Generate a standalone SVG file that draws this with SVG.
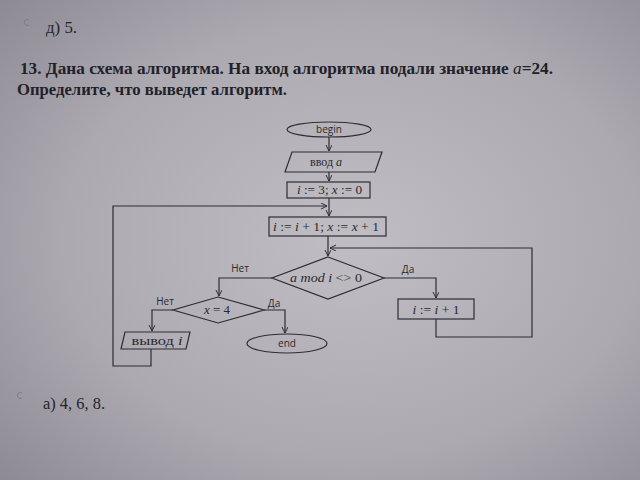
<svg xmlns="http://www.w3.org/2000/svg" width="640" height="480" viewBox="0 0 640 480">
<defs>
<radialGradient id="paper" cx="0.55" cy="0.5" r="0.75">
<stop offset="0" stop-color="#c0bdc3"/>
<stop offset="0.6" stop-color="#aca9b1"/>
<stop offset="1" stop-color="#8c8993"/>
</radialGradient>
<marker id="arr" markerWidth="8" markerHeight="8" refX="6" refY="3" orient="auto" markerUnits="userSpaceOnUse">
<path d="M0,0 L6,3 L0,6" fill="none" stroke="#2e2d35" stroke-width="1"/>
</marker>
<style>
.ln{fill:none;stroke:#2e2d35;stroke-width:1.2}
.sh{fill:none;stroke:#2e2d35;stroke-width:1.2}
.ttl{font-family:"Liberation Serif",serif;font-weight:bold;font-size:16px;fill:#222128}
.ser{font-family:"Liberation Serif",serif;font-size:16px;fill:#25242b}
.sans{font-family:"Open Sans","DejaVu Sans",sans-serif;font-size:10px;fill:#2a2930}
.m{font-family:"Liberation Serif",serif;font-size:12px;fill:#2a2930}
.i{font-style:italic}
.mark{fill:none;stroke:#7d7b84;stroke-width:1}
</style>
</defs>
<rect width="640" height="480" fill="url(#paper)"/>
<path class="mark" d="M29,20 A3,3 0 1 0 29,25"/>
<path class="mark" d="M22,393 A3,3 0 1 0 22,398"/>
<text class="ser" x="46" y="33" textLength="31" lengthAdjust="spacingAndGlyphs">д) 5.</text>
<text class="ttl" x="20" y="74" textLength="533" lengthAdjust="spacingAndGlyphs">13. Дана схема алгоритма. На вход алгоритма подали значение <tspan font-style="italic" font-weight="normal">a</tspan>=24.</text>
<text class="ttl" x="17" y="95" textLength="270" lengthAdjust="spacingAndGlyphs">Определите, что выведет алгоритм.</text>
<text class="ser" x="43" y="409" textLength="62" lengthAdjust="spacingAndGlyphs">a) 4, 6, 8.</text>

<g id="connectors">
<path class="ln" d="M329,137 V151" marker-end="url(#arr)"/>
<path class="ln" d="M329,172 V181" marker-end="url(#arr)"/>
<path class="ln" d="M329,198 V216" marker-end="url(#arr)"/>
<path class="ln" d="M151,349 V366 H113 V206 H327" marker-end="url(#arr)"/>
<path class="ln" d="M328,236 V256" marker-end="url(#arr)"/>
<path class="ln" d="M436,319 V337 H532 V248 H330" marker-end="url(#arr)"/>
<path class="ln" d="M272,278 H219 V296" marker-end="url(#arr)"/>
<path class="ln" d="M384,278 H436 V298" marker-end="url(#arr)"/>
<path class="ln" d="M173,310 H152 V331" marker-end="url(#arr)"/>
<path class="ln" d="M264,310 H285 V333" marker-end="url(#arr)"/>
<text class="sans" x="240" y="272" text-anchor="middle">Нет</text>
<text class="sans" x="408" y="273" text-anchor="middle">Да</text>
<text class="sans" x="165" y="305" text-anchor="middle">Нет</text>
<text class="sans" x="274" y="307" text-anchor="middle">Да</text>
</g>

<g id="begin">
<ellipse class="sh" cx="329" cy="129.5" rx="42" ry="7.5"/>
<text class="sans" x="329" y="133" text-anchor="middle">begin</text>
</g>
<g id="input">
<polygon class="sh" points="292,152 382,152 375,172 285,172"/>
<text class="m" x="326" y="166" text-anchor="middle" textLength="32" lengthAdjust="spacingAndGlyphs">ввод <tspan class="i">a</tspan></text>
</g>
<g id="init">
<rect class="sh" x="287" y="182" width="83" height="16"/>
<text class="m" x="329.5" y="194" text-anchor="middle" textLength="65" lengthAdjust="spacingAndGlyphs"><tspan class="i">i</tspan> := 3; <tspan class="i">x</tspan> := 0</text>
</g>
<g id="step">
<rect class="sh" x="269" y="217" width="117" height="19"/>
<text class="m" x="326" y="230.5" text-anchor="middle" textLength="106" lengthAdjust="spacingAndGlyphs"><tspan class="i">i</tspan> := <tspan class="i">i</tspan> + 1; <tspan class="i">x</tspan> := <tspan class="i">x</tspan> + 1</text>
</g>
<g id="cond1">
<polygon class="sh" points="328,257 384,278 328,299 272,278"/>
<text class="m" x="326" y="282" text-anchor="middle" textLength="72" lengthAdjust="spacingAndGlyphs"><tspan class="i">a mod i</tspan> &lt;&gt; 0</text>
</g>
<g id="cond2">
<polygon class="sh" points="218,297 264,310 218,323 173,310"/>
<text class="m" x="217" y="314" text-anchor="middle" textLength="26" lengthAdjust="spacingAndGlyphs"><tspan class="i">x</tspan> = 4</text>
</g>
<g id="inc">
<rect class="sh" x="398" y="299" width="76" height="20"/>
<text class="m" x="436" y="313.5" text-anchor="middle" textLength="47" lengthAdjust="spacingAndGlyphs"><tspan class="i">i</tspan> := <tspan class="i">i</tspan> + 1</text>
</g>
<g id="output">
<polygon class="sh" points="125,332 190,332 186,349 121,349"/>
<text class="m" x="157" y="344.5" text-anchor="middle" textLength="51" lengthAdjust="spacingAndGlyphs">вывод <tspan class="i">i</tspan></text>
</g>
<g id="end">
<ellipse class="sh" cx="287" cy="343.5" rx="40" ry="9.5"/>
<text class="sans" x="287" y="347" text-anchor="middle">end</text>
</g>
</svg>
